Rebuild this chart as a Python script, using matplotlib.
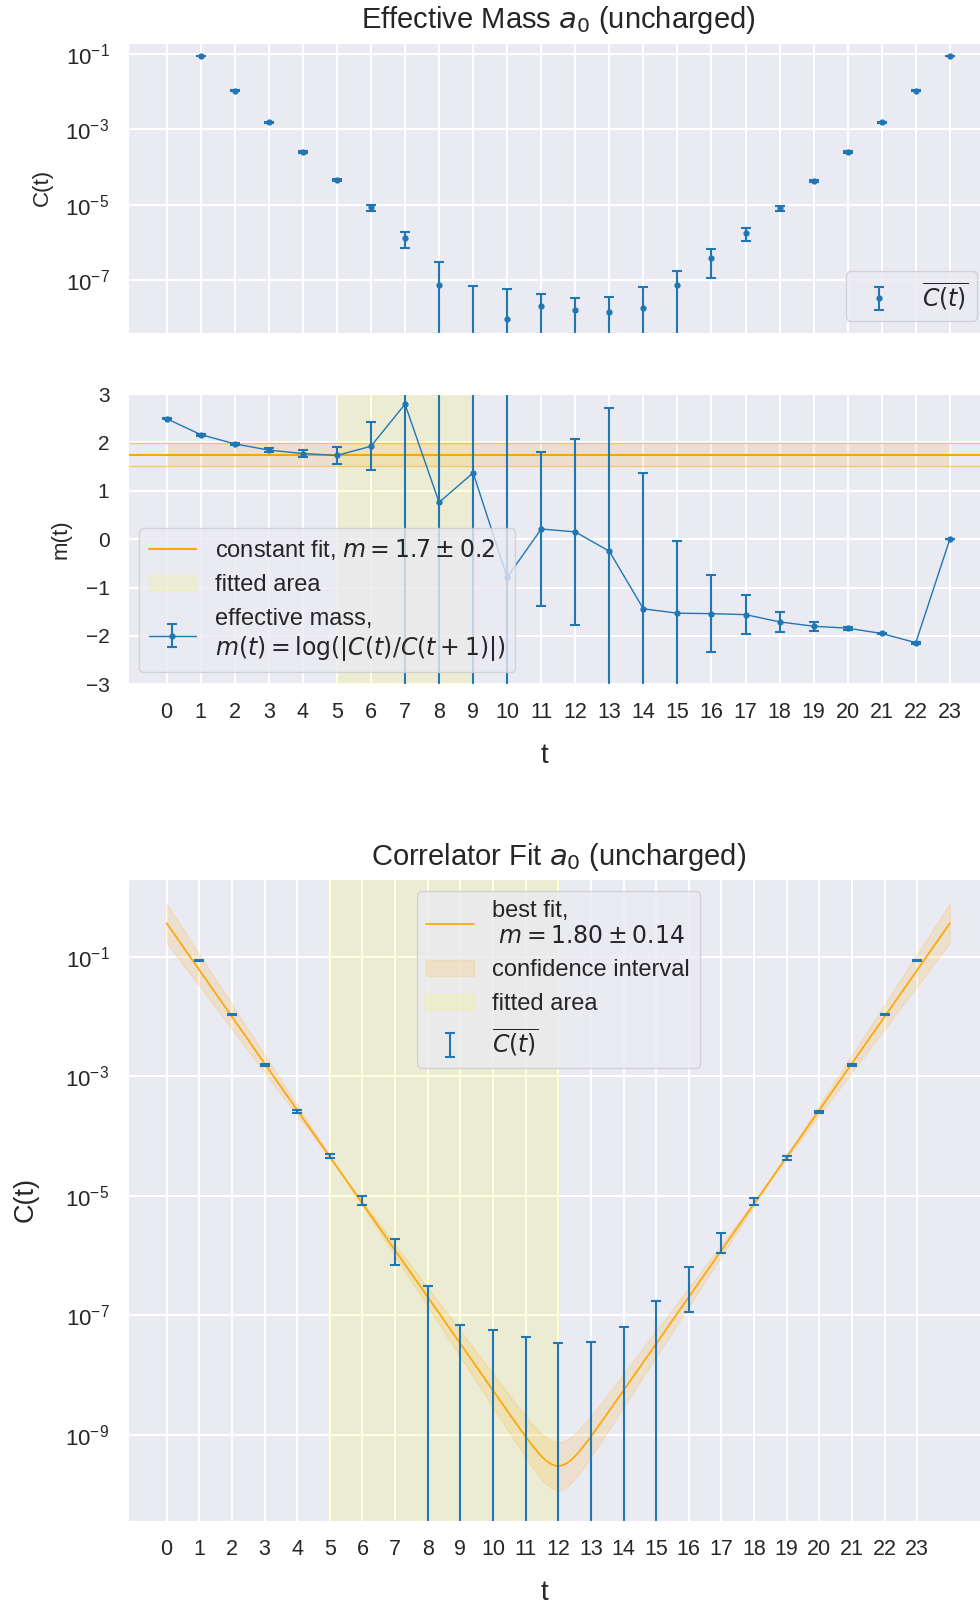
import numpy as np
import matplotlib
matplotlib.use("Agg")
import matplotlib.pyplot as plt
from matplotlib.ticker import NullLocator
import seaborn as sns

# ---------------- data ----------------
# averaged correlator C(t) and its statistical error, t = 1 .. 23
t_corr = np.arange(1, 24)
corr_mean = [8.7e-2, 1.06e-2, 1.55e-3, 2.57e-4, 4.58e-5, 8.5e-6, 1.3e-6,
             7.6e-8, -3.6e-8, 9.1e-9, 2.03e-8, 1.67e-8, 1.44e-8, 1.84e-8,
             7.6e-8, 3.85e-7, 1.75e-6, 8.0e-6, 4.31e-5, 2.51e-4, 1.55e-3,
             1.06e-2, 8.7e-2]
corr_err = [1.0e-3, 2.0e-4, 5.0e-5, 1.3e-5, 3.7e-6, 1.5e-6, 6.0e-7,
            2.34e-7, 1.06e-7, 4.8e-8, 2.37e-8, 1.78e-8, 2.14e-8, 4.6e-8,
            1.01e-7, 2.7e-7, 6.4e-7, 1.1e-6, 3.0e-6, 1.0e-5, 4.0e-5,
            2.0e-4, 1.0e-3]

# effective mass m(t) = log|C(t)/C(t+1)|, t = 0 .. 23
t_eff = np.arange(0, 24)
eff_mass = [2.49, 2.16, 1.97, 1.84, 1.77, 1.73, 1.92, 2.79, 0.76, 1.37,
            -0.79, 0.21, 0.15, -0.25, -1.44, -1.53, -1.54, -1.56, -1.71,
            -1.80, -1.84, -1.95, -2.14, 0.0]
eff_err = [0.015, 0.02, 0.02, 0.035, 0.08, 0.18, 0.5, 8.0, 6.5, 7.0,
           5.5, 1.6, 1.93, 2.96, 2.81, 1.5, 0.79, 0.41, 0.2, 0.09,
           0.03, 0.02, 0.02, 0.0]

# plateau (constant) fit of the effective mass
const_mass = 1.748
const_mass_err = 0.234
const_window = (5, 9)

# cosh fit of the correlator, C(t) = A (exp(-m t) + exp(-m (T - t)))
fit_amplitude = 0.363
fit_mass = 1.80
fit_mass_err = 0.14
fit_pivot = 5.4          # time slice where amplitude and mass decorrelate
lattice_T = 24
fit_window = (5, 12)

BLUE = "#1f77b4"
ORANGE = "orange"

# ---------------- style ----------------
sns.set_style("darkgrid")
plt.rcParams["font.family"] = ["Liberation Sans", "DejaVu Sans"]
plt.rcParams["grid.linewidth"] = 1.5
plt.rcParams["legend.fontsize"] = 17

FIG_W, FIG_H = 980, 1603
fig = plt.figure(figsize=(FIG_W / 100, FIG_H / 100), dpi=100)

AX_LEFT, AX_RIGHT = 127.5, 989.0


def axes_px(top, bottom, **kw):
    return fig.add_axes([AX_LEFT / FIG_W, (FIG_H - bottom) / FIG_H,
                         (AX_RIGHT - AX_LEFT) / FIG_W, (bottom - top) / FIG_H], **kw)


ax1 = axes_px(42.7, 333.0)
ax2 = axes_px(394.0, 684.3, sharex=ax1)
ax3 = axes_px(879.0, 1521.0)

eb_kw = dict(capsize=3.5, elinewidth=1.5, capthick=1.5)
XLABEL_X = 0.4835

# ---------------- top: correlator ----------------
ax1.set_yscale("log")
ax1.errorbar(t_corr, corr_mean, yerr=corr_err, fmt=".", ms=7, color=BLUE,
             label=r"$\overline{C(t)}$", **eb_kw)
ax1.set_xticks(range(24))
ax1.set_xlim(-1.15, 24.15)
ax1.set_ylim(10 ** -8.40, 10 ** -0.70)
ax1.set_yticks([1e-1, 1e-3, 1e-5, 1e-7])
ax1.yaxis.set_minor_locator(NullLocator())
ax1.tick_params(labelbottom=False)
ax1.legend(loc="lower right")
ax1.set_title("Effective Mass $a_0$ (uncharged)", fontsize=21, pad=10.4)
ax1.set_ylabel("C(t)", fontsize=16)
ax1.yaxis.set_label_coords(-0.0865, 0.5)

# ---------------- middle: effective mass ----------------
span2 = ax2.axvspan(*const_window, color="yellow", alpha=0.12, label="fitted area")
ax2.fill_between([t_eff[0], t_eff[-1]], const_mass - const_mass_err,
                 const_mass + const_mass_err, color=ORANGE, alpha=0.15, lw=0)
cline = ax2.axhline(const_mass, color=ORANGE, lw=1.5,
                    label=f"constant fit, $m = {const_mass:.1f} \\pm {const_mass_err:.1f}$")
ax2.axhline(const_mass + const_mass_err, color=ORANGE, lw=1, alpha=0.5)
ax2.axhline(const_mass - const_mass_err, color=ORANGE, lw=1, alpha=0.5)
eb2 = ax2.errorbar(t_eff, eff_mass, yerr=eff_err, fmt=".-", ms=7, color=BLUE, lw=1,
                   label="effective mass,\n$m(t) = \\log(|C(t)/C(t+1)|)$", **eb_kw)
ax2.set_ylim(-3, 3)
ax2.set_yticks([-3, -2, -1, 0, 1, 2, 3])
ax2.legend(handles=[cline, span2, eb2], loc="lower left")
ax2.set_xlabel("t", fontsize=20, labelpad=14)
ax2.xaxis.label.set_x(XLABEL_X)
ax2.set_ylabel("m(t)", fontsize=16)
ax2.yaxis.set_label_coords(-0.0649, 0.5)

# ---------------- bottom: correlator fit ----------------
tt = np.linspace(0, lattice_T, 241)


def cosh_model(t, amp, mass):
    return amp * (np.exp(-mass * t) + np.exp(-mass * (lattice_T - t)))


fit_curve = cosh_model(tt, fit_amplitude, fit_mass)
var_a = cosh_model(tt, fit_amplitude * np.exp(fit_mass_err * fit_pivot), fit_mass + fit_mass_err)
var_b = cosh_model(tt, fit_amplitude * np.exp(-fit_mass_err * fit_pivot), fit_mass - fit_mass_err)
band_lo = np.minimum(var_a, var_b)
band_hi = np.maximum(var_a, var_b)

ax3.set_yscale("log")
span3 = ax3.axvspan(*fit_window, color="yellow", alpha=0.12, label="fitted area")
band = ax3.fill_between(tt, band_lo, band_hi, color=ORANGE, alpha=0.15,
                        label="confidence interval")
fline, = ax3.plot(tt, fit_curve, color=ORANGE, lw=1.2,
                  label=f"best fit,\n $m = {fit_mass:.2f} \\pm {fit_mass_err:.2f}$")
eb3 = ax3.errorbar(t_corr, corr_mean, yerr=corr_err, fmt="none", ecolor=BLUE,
                   label=r"$\overline{C(t)}$", **eb_kw)
ax3.set_xticks(range(24))
ax3.set_xlim(-1.2, 25.2)
ax3.set_ylim(10 ** -10.44, 10 ** 0.30)
ax3.set_yticks([1e-1, 1e-3, 1e-5, 1e-7, 1e-9])
ax3.yaxis.set_minor_locator(NullLocator())
ax3.legend(handles=[fline, band, span3, eb3], loc="upper center")
ax3.set_title("Correlator Fit $a_0$ (uncharged)", fontsize=21, pad=10.3)
ax3.set_xlabel("t", fontsize=20, labelpad=14)
ax3.xaxis.label.set_x(XLABEL_X)
ax3.set_ylabel("C(t)", fontsize=19.5)
ax3.yaxis.set_label_coords(-0.1035, 0.5)

for ax in (ax1, ax2, ax3):
    ax.tick_params(axis="both", length=0, pad=13)
    ax.tick_params(axis="x", labelsize=15.5)
    ax.tick_params(axis="y", labelsize=15)
for ax in (ax1, ax3):
    ax.tick_params(axis="y", labelsize=16)

fig.savefig("out.png", dpi=100)
